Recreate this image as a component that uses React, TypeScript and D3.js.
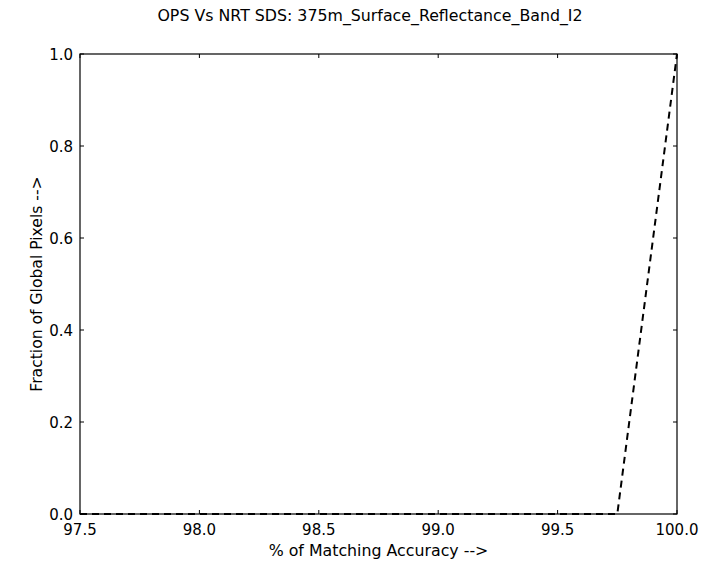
import React from "react";
import * as d3 from "d3";

const xValues = [97.5, 99.75, 100.0];
const yValues = [0.0, 0.0, 1.0];
const xTicks = [97.5, 98.0, 98.5, 99.0, 99.5, 100.0];
const yTicks = [0.0, 0.2, 0.4, 0.6, 0.8, 1.0];
const title = "OPS Vs NRT SDS: 375m_Surface_Reflectance_Band_I2";
const xLabel = "% of Matching Accuracy -->";
const yLabel = "Fraction of Global Pixels -->";

const W = 711, H = 567;
const L = 80, R = 677, T = 54, B = 514;
const font = "'DejaVu Sans', sans-serif";

export default function App() {
  const x = d3.scaleLinear().domain([97.5, 100]).range([L, R]);
  const y = d3.scaleLinear().domain([0, 1]).range([B, T]);
  const pts = xValues.map((v, i) => [v, yValues[i]] as [number, number]);
  const line = d3.line<[number, number]>().x(d => x(d[0])).y(d => y(d[1]));
  return (
    <svg width={W} height={H} style={{ position: "absolute", left: 0, top: 0 }}>
      <rect x={0} y={0} width={W} height={H} fill="#fff" />
      <text x={370} y={21} textAnchor="middle" fontFamily={font} fontSize={15.8} fill="#000">{title}</text>
      <path d={line(pts) ?? ""} fill="none" stroke="#000" strokeWidth={2} strokeDasharray="7,5" />
      <rect x={L} y={T} width={R - L} height={B - T} fill="none" stroke="#000" strokeWidth={1.2} />
      {xTicks.map(t => (
        <g key={"x" + t}>
          <line x1={x(t)} x2={x(t)} y1={B} y2={B - 4} stroke="#000" />
          <line x1={x(t)} x2={x(t)} y1={T} y2={T + 4} stroke="#000" />
          <text x={x(t)} y={535} textAnchor="middle" fontFamily={font} fontSize={15} fill="#000">{t.toFixed(1)}</text>
        </g>
      ))}
      {yTicks.map(t => (
        <g key={"y" + t}>
          <line x1={L} x2={L + 4} y1={y(t)} y2={y(t)} stroke="#000" />
          <line x1={R} x2={R - 4} y1={y(t)} y2={y(t)} stroke="#000" />
          <text x={73} y={y(t) + 5.5} textAnchor="end" fontFamily={font} fontSize={15} fill="#000">{t.toFixed(1)}</text>
        </g>
      ))}
      <text x={(L + R) / 2} y={556} textAnchor="middle" fontFamily={font} fontSize={15.8} fill="#000">{xLabel}</text>
      <text transform={`translate(42,${(T + B) / 2}) rotate(-90)`} textAnchor="middle" fontFamily={font} fontSize={15.6} fill="#000">{yLabel}</text>
    </svg>
  );
}
